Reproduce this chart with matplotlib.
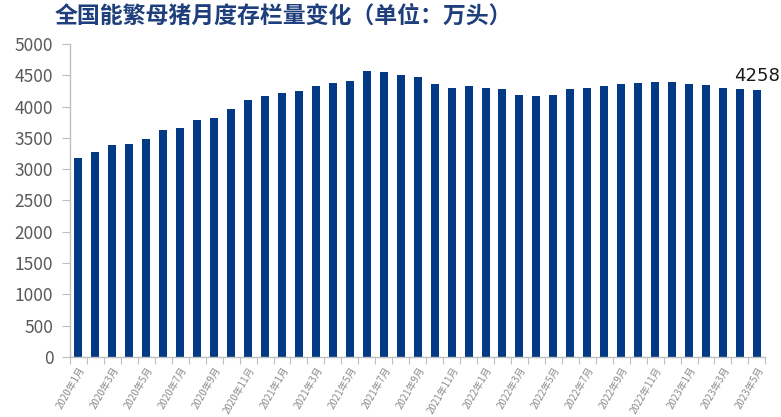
import matplotlib
matplotlib.use("Agg")
import matplotlib.pyplot as plt
import numpy as np

plt.rcParams['font.family'] = ['Noto Sans CJK SC', 'DejaVu Sans']

months = [f"{y}年{m}月" for y in (2020, 2021, 2022) for m in range(1, 13)] + \
         [f"2023年{m}月" for m in range(1, 6)]
values = [3179, 3275, 3387, 3403, 3482, 3626, 3658, 3786, 3818, 3962,
          4105, 4169, 4217, 4249, 4329, 4377, 4409, 4564, 4553, 4505,
          4473, 4361, 4297, 4329, 4297, 4281, 4185, 4177, 4192, 4281,
          4297, 4324, 4362, 4379, 4390, 4390, 4367, 4343, 4305, 4284,
          4258]
title = "全国能繁母猪月度存栏量变化（单位：万头）"

fig = plt.figure(figsize=(7.81, 4.17), dpi=100)
ax = fig.add_axes([0.0896, 0.1439, 0.8904, 0.7506])
x = np.arange(len(values))
ax.bar(x, values, width=0.47, color='#023A85', zorder=2)

ax.set_xlim(-0.5, len(values) - 0.5)
ax.set_ylim(0, 5000)
ax.set_yticks(np.arange(0, 5001, 500))
ax.tick_params(axis='y', labelsize=12.5, colors='#595959', length=6, width=0.8,
               color='#BFBFBF', pad=6)

ax.set_xticks(x[::2])
ax.set_xticklabels(months[::2], rotation=60, ha='right', va='top',
                   rotation_mode='anchor', fontsize=7, color='#8C8C8C')
ax.tick_params(axis='x', which='major', length=0, pad=6)
ax.set_xticks(np.arange(-0.5, len(values), 1), minor=True)
ax.tick_params(axis='x', which='minor', length=5, width=0.8, color='#BFBFBF')

for s in ('top', 'right'):
    ax.spines[s].set_visible(False)
for s in ('left', 'bottom'):
    ax.spines[s].set_color('#BFBFBF')
    ax.spines[s].set_linewidth(1.0)

ax.annotate(str(values[-1]), (x[-1], values[-1]), xytext=(0, 4),
            textcoords='offset points', ha='center', va='bottom',
            fontsize=13, color='#1a1a1a', family=['DejaVu Sans'])

fig.text(0.070, 0.962, title, fontsize=16.5, fontweight='bold', color='#1F3E7C',
         ha='left', va='center')

fig.savefig('out.png', dpi=100)
